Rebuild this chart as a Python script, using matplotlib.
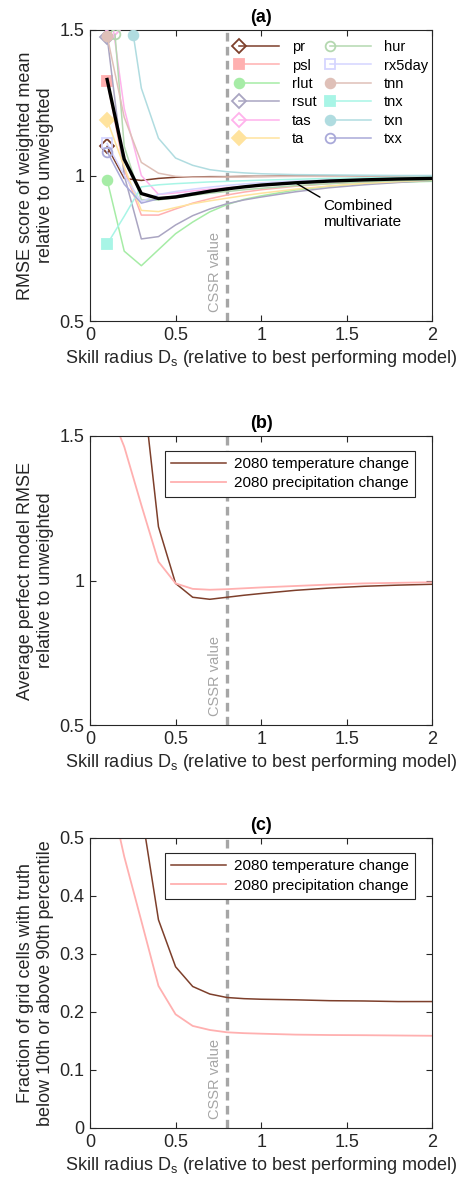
import numpy as np
import matplotlib
matplotlib.use("Agg")
import matplotlib.pyplot as plt
from matplotlib.ticker import FormatStrFormatter
from matplotlib.legend_handler import HandlerLine2D

plt.rcParams['font.family'] = ['Liberation Sans', 'DejaVu Sans']

# skill radius grid
ds = [0.1, 0.2, 0.3, 0.4, 0.5, 0.6, 0.7, 0.8, 0.9, 1.0, 1.2, 1.4, 1.6, 1.8, 2.0]

# panel (a): RMSE of weighted mean relative to unweighted, per variable
names = ['pr', 'psl', 'rlut', 'rsut', 'tas', 'ta', 'hur', 'rx5day', 'tnn', 'tnx', 'txn', 'txx']
pr = [1.10, 0.99, 0.983, 0.99, 0.994, 0.995, 0.996, 0.996, 0.997, 0.997, 0.998, 0.998, 0.998, 0.998, 0.998]
psl = [1.325, 1.02, 0.864, 0.864, 0.885, 0.905, 0.92, 0.933, 0.943, 0.951, 0.963, 0.972, 0.978, 0.983, 0.987]
rlut = [0.985, 0.74, 0.69, 0.745, 0.80, 0.84, 0.875, 0.90, 0.918, 0.93, 0.95, 0.963, 0.972, 0.977, 0.98]
rsut = [1.477, 1.0, 0.782, 0.79, 0.83, 0.862, 0.885, 0.903, 0.916, 0.926, 0.944, 0.958, 0.968, 0.976, 0.983]
tas = [1.50, 1.23, 1.0, 0.935, 0.94, 0.947, 0.953, 0.958, 0.963, 0.967, 0.974, 0.979, 0.983, 0.986, 0.989]
ta = [1.19, 1.03, 0.88, 0.876, 0.89, 0.903, 0.913, 0.922, 0.931, 0.939, 0.953, 0.964, 0.973, 0.979, 0.984]
hur = [1.485, 1.10, 0.916, 0.916, 0.924, 0.932, 0.939, 0.945, 0.951, 0.956, 0.965, 0.972, 0.978, 0.982, 0.985]
rx5day = [1.11, 1.0, 0.91, 0.935, 0.945, 0.953, 0.96, 0.966, 0.971, 0.975, 0.981, 0.985, 0.988, 0.99, 0.992]
tnn = [1.48, 1.20, 1.045, 1.008, 0.997, 0.994, 0.994, 0.995, 0.995, 0.996, 0.997, 0.997, 0.998, 0.998, 0.998]
tnx = [0.764, 0.86, 0.961, 0.968, 0.972, 0.975, 0.978, 0.98, 0.982, 0.984, 0.987, 0.99, 0.992, 0.993, 0.995]
txn = [1.483, 1.483, 1.30, 1.128, 1.06, 1.035, 1.02, 1.013, 1.009, 1.006, 1.003, 1.002, 1.001, 1.0, 1.0]
txx = [1.082, 0.97, 0.905, 0.92, 0.93, 0.94, 0.948, 0.955, 0.96, 0.965, 0.973, 0.979, 0.984, 0.987, 0.99]
# first x of each curve (some start later on the grid)
start_x = [0.1, 0.1, 0.1, 0.1, 0.137, 0.1, 0.146, 0.1, 0.1, 0.1, 0.253, 0.1]
combined = [1.33, 1.056, 0.938, 0.921, 0.926, 0.936, 0.946, 0.954, 0.961, 0.967, 0.975, 0.981, 0.985, 0.988, 0.99]

# panels (b) and (c)
rmse_temp = [2.5, 2.1, 1.72, 1.186, 0.99, 0.942, 0.935, 0.942, 0.949, 0.955, 0.966, 0.974, 0.980, 0.984, 0.987]
rmse_prec = [1.61, 1.463, 1.261, 1.065, 0.99, 0.971, 0.968, 0.970, 0.973, 0.976, 0.981, 0.986, 0.990, 0.992, 0.994]
frac_temp = [0.85, 0.70, 0.547, 0.359, 0.278, 0.244, 0.231, 0.225, 0.223, 0.222, 0.221, 0.2195, 0.219, 0.218, 0.218]
frac_prec = [0.60, 0.468, 0.357, 0.245, 0.196, 0.176, 0.169, 0.165, 0.1635, 0.1626, 0.161, 0.1603, 0.16, 0.1595, 0.159]

cssr = 0.8

series = [pr, psl, rlut, rsut, tas, ta, hur, rx5day, tnn, tnx, txn, txx]
colors = ['#7d3f2b', '#ffb0b0', '#a6eca6', '#aaa5c2', '#ffb2ec', '#ffe39e',
          '#b4d8b0', '#d5d5ff', '#dfc0b8', '#a8f5e6', '#b0dce0', '#a9a9d9']
markers = ['D', 's', 'o', 'D', 'D', 'D', 'o', 's', 'o', 's', 'o', 'o']
filled = [False, True, True, False, False, True, False, False, True, True, True, False]

dark = '#262626'
fs = 13


class LeftMarker(HandlerLine2D):
    # legend entry with the marker only at the left end of the line
    def create_artists(self, legend, orig_handle, xdescent, ydescent, width, height,
                       fontsize, trans):
        arts = super().create_artists(legend, orig_handle, xdescent, ydescent, width,
                                      height, fontsize, trans)
        for a in arts:
            a.set_markevery([0])
        return arts


fig = plt.figure(figsize=(4.65, 11.86), dpi=100)
W, H = 465.0, 1186.0
boxes = [(30, 321), (436, 725), (838, 1128)]
axes = []
for top, bot in boxes:
    ax = fig.add_axes([90 / W, 1 - bot / H, 342.3 / W, (bot - top) / H])
    axes.append(ax)


def style(ax, title):
    ax.set_xlim(0, 2)
    ax.set_xticks([0, 0.5, 1, 1.5, 2])
    ax.xaxis.set_major_formatter(FormatStrFormatter('%g'))
    ax.yaxis.set_major_formatter(FormatStrFormatter('%g'))
    ax.tick_params(direction='in', top=True, right=True, length=4, width=0.8,
                   colors=dark, labelsize=fs, pad=4)
    for s in ax.spines.values():
        s.set_color(dark)
        s.set_linewidth(0.8)
    ax.set_xlabel('Skill radius D$_\\mathregular{s}$ (relative to best performing model)',
                  fontsize=fs, color=dark, labelpad=3)
    ax.set_title(title, fontsize=fs, fontweight='bold', color='black', pad=6)
    ax.axvline(cssr, color='#a6a6a6', lw=2.4, ls=(0, (2.6, 1.6)), zorder=1)
    ax.text(cssr - 0.07, 0.03, 'CSSR value', rotation=90, color='#a6a6a6', fontsize=10.5,
            ha='center', va='bottom', transform=ax.get_xaxis_transform())


# (a)
ax = axes[0]
style(ax, '(a)')
for name, y, c, m, f, x0 in zip(names, series, colors, markers, filled, start_x):
    x = list(ds)
    x[0] = x0
    if name == 'txn':
        x, y = x[1:], y[1:]
        x[0] = x0
    ax.plot(x, y, color=c, lw=1.1, marker=m, markevery=[0], ms=7,
            mfc=c if f else 'none', mec=c, mew=1.3, label=name, zorder=3)
ax.plot(ds, combined, color='black', lw=2.4, zorder=5)
ax.set_ylim(0.5, 1.5)
ax.set_yticks([0.5, 1, 1.5])
ax.set_ylabel('RMSE score of weighted mean\nrelative to unweighted', fontsize=fs,
              color=dark, labelpad=4)
ax.legend(loc='upper left', bbox_to_anchor=(0.415, 0.965), ncol=2, frameon=False,
          fontsize=10.5, handlelength=3.7, numpoints=2, columnspacing=0.5,
          handletextpad=0.4, labelspacing=0.3, borderaxespad=0, borderpad=0,
          handler_map={matplotlib.lines.Line2D: LeftMarker(numpoints=2, marker_pad=0.45)})
ax.annotate('Combined\nmultivariate', xy=(1.2, 0.975), xytext=(1.36, 0.92),
            fontsize=11, ha='left', va='top', color='black',
            arrowprops=dict(arrowstyle='-', color='black', lw=1, relpos=(0, 1),
                            shrinkA=0, shrinkB=0))

# (b)
ax = axes[1]
style(ax, '(b)')
ax.plot(ds, rmse_temp, color='#7d3f2b', lw=1.1, label='2080 temperature change')
ax.plot(ds, rmse_prec, color='#ffb0b0', lw=1.3, label='2080 precipitation change')
ax.set_ylim(0.5, 1.5)
ax.set_yticks([0.5, 1, 1.5])
ax.set_ylabel('Average perfect model RMSE\nrelative to unweighted', fontsize=fs,
              color=dark, labelpad=4)

# (c)
ax = axes[2]
style(ax, '(c)')
ax.plot(ds, frac_temp, color='#7d3f2b', lw=1.1, label='2080 temperature change')
ax.plot(ds, frac_prec, color='#ffb0b0', lw=1.3, label='2080 precipitation change')
ax.set_ylim(0, 0.5)
ax.set_yticks([0, 0.1, 0.2, 0.3, 0.4, 0.5])
ax.set_ylabel('Fraction of grid cells with truth\nbelow 10th or above 90th percentile',
              fontsize=fs, color=dark, labelpad=4)

for ax in axes[1:]:
    leg = ax.legend(loc='upper right', bbox_to_anchor=(0.949, 0.948), fontsize=11,
                    handlelength=3.6, fancybox=False, framealpha=1, borderaxespad=0,
                    borderpad=0.4, labelspacing=0.35, handletextpad=0.5)
    leg.get_frame().set_edgecolor(dark)
    leg.get_frame().set_linewidth(0.8)

fig.savefig('out.png', dpi=100)
